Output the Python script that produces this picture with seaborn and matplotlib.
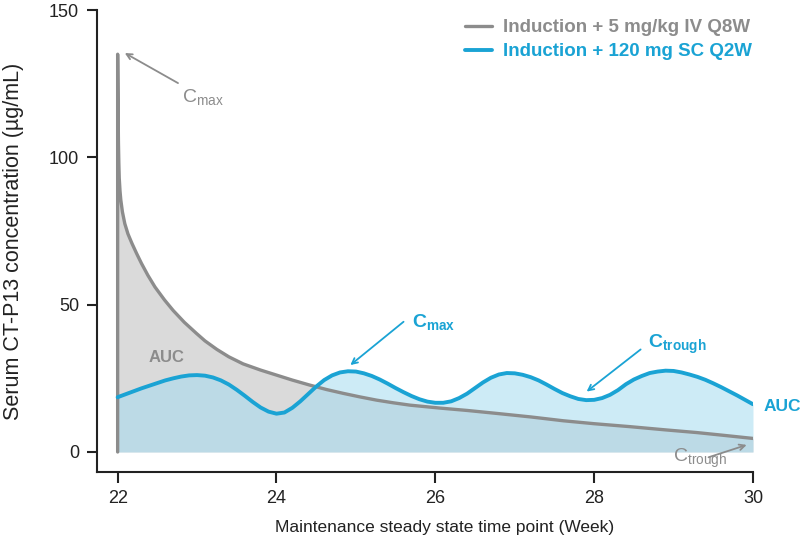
import numpy as np
import pandas as pd
import matplotlib
matplotlib.use("Agg")
import matplotlib.pyplot as plt
import seaborn as sns

# ---- data ----
iv_week = [22.0, 22.0, 22.003, 22.006, 22.01, 22.015, 22.02, 22.03, 22.04, 22.06, 22.09,
           22.13, 22.18, 22.24, 22.3, 22.38, 22.47, 22.59, 22.7, 22.84, 22.99, 23.1,
           23.25, 23.4, 23.58, 23.8, 24.0, 24.2, 24.42, 24.63, 24.84, 25.05, 25.26,
           25.47, 25.68, 26.06, 26.4, 26.77, 27.2, 27.61, 28.0, 28.45, 28.9, 29.29,
           29.65, 30.0]
iv_conc = [0.0, 135.0, 125.0, 115.0, 105.0, 98.0, 93.0, 88.5, 85.5, 81.5, 77.5,
           74.0, 70.8, 67.3, 64.0, 60.0, 56.0, 51.6, 48.0, 44.0, 40.3, 37.7,
           34.8, 32.3, 29.9, 27.8, 26.1, 24.4, 22.7, 21.2, 19.9, 18.7, 17.6,
           16.7, 15.9, 14.9, 14.1, 13.1, 11.9, 10.6, 9.6, 8.6, 7.5, 6.6,
           5.6, 4.6]

sc_week = [22.0, 22.1, 22.2, 22.3, 22.4, 22.5, 22.6, 22.7, 22.8, 22.9,
           23.0, 23.1, 23.2, 23.3, 23.4, 23.5, 23.6, 23.7, 23.8, 23.9,
           24.0, 24.1, 24.2, 24.3, 24.4, 24.5, 24.6, 24.7, 24.8, 24.9,
           25.0, 25.1, 25.2, 25.3, 25.4, 25.5, 25.6, 25.7, 25.8, 25.9,
           26.0, 26.1, 26.2, 26.3, 26.4, 26.5, 26.6, 26.7, 26.8, 26.9,
           27.0, 27.1, 27.2, 27.3, 27.4, 27.5, 27.6, 27.7, 27.8, 27.9,
           28.0, 28.1, 28.2, 28.3, 28.4, 28.5, 28.6, 28.7, 28.8, 28.9,
           29.0, 29.1, 29.2, 29.3, 29.4, 29.5, 29.6, 29.7, 29.8, 29.9, 30.0]
sc_conc = [18.6, 19.6, 20.6, 21.6, 22.5, 23.4, 24.3, 25.0, 25.6, 26.0,
           26.1, 25.9, 25.3, 24.3, 22.9, 21.1, 19.1, 17.0, 15.1, 13.7,
           13.0, 13.4, 15.0, 17.2, 19.7, 22.2, 24.4, 26.0, 27.0, 27.4,
           27.3, 26.7, 25.8, 24.6, 23.2, 21.7, 20.3, 19.0, 17.9, 17.1,
           16.7, 16.7, 17.2, 18.3, 19.8, 21.7, 23.6, 25.2, 26.3, 26.8,
           26.7, 26.2, 25.4, 24.3, 22.9, 21.4, 20.0, 18.9, 18.0, 17.6,
           17.7, 18.3, 19.4, 21.0, 23.0, 24.6, 25.8, 26.8, 27.3, 27.6,
           27.5, 27.0, 26.3, 25.5, 24.5, 23.3, 22.0, 20.6, 19.2, 17.7, 16.2]

series_labels = ["Induction + 5 mg/kg IV Q8W", "Induction + 120 mg SC Q2W"]
x_ticks = [22, 24, 26, 28, 30]
y_ticks = [0, 50, 100, 150]

GRAY = "#8c8c8c"
GRAY_FILL = "#dadada"
BLUE = "#1aa3d4"
BLUE_FILL = "#a4dbf0"

sns.set_style("ticks")
plt.rcParams["font.family"] = ["Liberation Sans", "DejaVu Sans"]
plt.rcParams["mathtext.default"] = "regular"

fig = plt.figure(figsize=(8.0, 5.45), dpi=100)
ax = fig.add_axes([0.12125, 0.1339, 0.82, 0.8477])

iv = pd.DataFrame({"week": iv_week, "conc": iv_conc})
sc = pd.DataFrame({"week": sc_week, "conc": sc_conc})

ax.fill_between(iv["week"], 0, iv["conc"], color=GRAY_FILL, lw=0, zorder=1)
ax.fill_between(sc["week"], 0, sc["conc"], color=BLUE_FILL, alpha=0.55, lw=0, zorder=2)

sns.lineplot(data=iv, x="week", y="conc", sort=False, estimator=None, color=GRAY,
             lw=2.4, label=series_labels[0], ax=ax, zorder=3)
sns.lineplot(data=sc, x="week", y="conc", sort=False, estimator=None, color=BLUE,
             lw=2.8, label=series_labels[1], ax=ax, zorder=4)

ax.set_xlim(21.74, 30)
ax.set_ylim(-6.8, 150)
ax.set_xticks(x_ticks)
ax.set_yticks(y_ticks)
ax.tick_params(axis="both", labelsize=13, width=1.5, color="#222222", labelcolor="#222222")
ax.tick_params(axis="y", length=7, pad=6)
ax.tick_params(axis="x", length=8, pad=5)
for side in ["top", "right"]:
    ax.spines[side].set_visible(False)
for side in ["left", "bottom"]:
    ax.spines[side].set_linewidth(1.5)
    ax.spines[side].set_color("#222222")

ax.set_xlabel("Maintenance steady state time point (Week)", fontsize=12.5, color="#222222")
ax.set_ylabel("Serum CT-P13 concentration (µg/mL)", fontsize=15.5, color="#222222")
ax.xaxis.set_label_coords(0.53, -0.104)
ax.yaxis.set_label_coords(-0.112, 0.5)

leg = ax.legend(loc="upper left", bbox_to_anchor=(0.561, 0.98), frameon=False,
                borderpad=0, borderaxespad=0, handlelength=1.45, handletextpad=0.55,
                labelspacing=0.36, prop={"size": 13.5, "weight": "bold"},
                labelcolor="linecolor")

# annotations
arrow_gray = dict(arrowstyle="->", color=GRAY, lw=1.3, shrinkA=0, shrinkB=0)
arrow_blue = dict(arrowstyle="->", color=BLUE, lw=1.3, shrinkA=0, shrinkB=0)

ax.annotate("", xy=(22.09, 135.4), xytext=(22.76, 125.2), arrowprops=arrow_gray)
ax.text(22.81, 118.8, r"C$_{max}$", color=GRAY, fontsize=14, ha="left", va="baseline")

ax.annotate("", xy=(24.93, 29.5), xytext=(25.60, 44.2), arrowprops=arrow_blue)
ax.text(25.71, 42.4, r"C$_{max}$", color=BLUE, fontsize=14, fontweight="bold",
        ha="left", va="baseline")

ax.annotate("", xy=(27.905, 20.5), xytext=(28.585, 34.8), arrowprops=arrow_blue)
ax.text(28.68, 35.3, r"C$_{trough}$", color=BLUE, fontsize=14, fontweight="bold",
        ha="left", va="baseline")

ax.annotate("", xy=(29.92, 2.4), xytext=(29.44, -1.8), arrowprops=arrow_gray,
            annotation_clip=False)
ax.text(28.99, -3.3, r"C$_{trough}$", color=GRAY, fontsize=14, ha="left", va="baseline")

ax.text(22.61, 32.1, "AUC", color=GRAY, fontsize=12, fontweight="bold",
        ha="center", va="center")
ax.text(30.13, 15.6, "AUC", color=BLUE, fontsize=12.5, fontweight="bold",
        ha="left", va="center", clip_on=False)

fig.savefig("out.png", dpi=100)
